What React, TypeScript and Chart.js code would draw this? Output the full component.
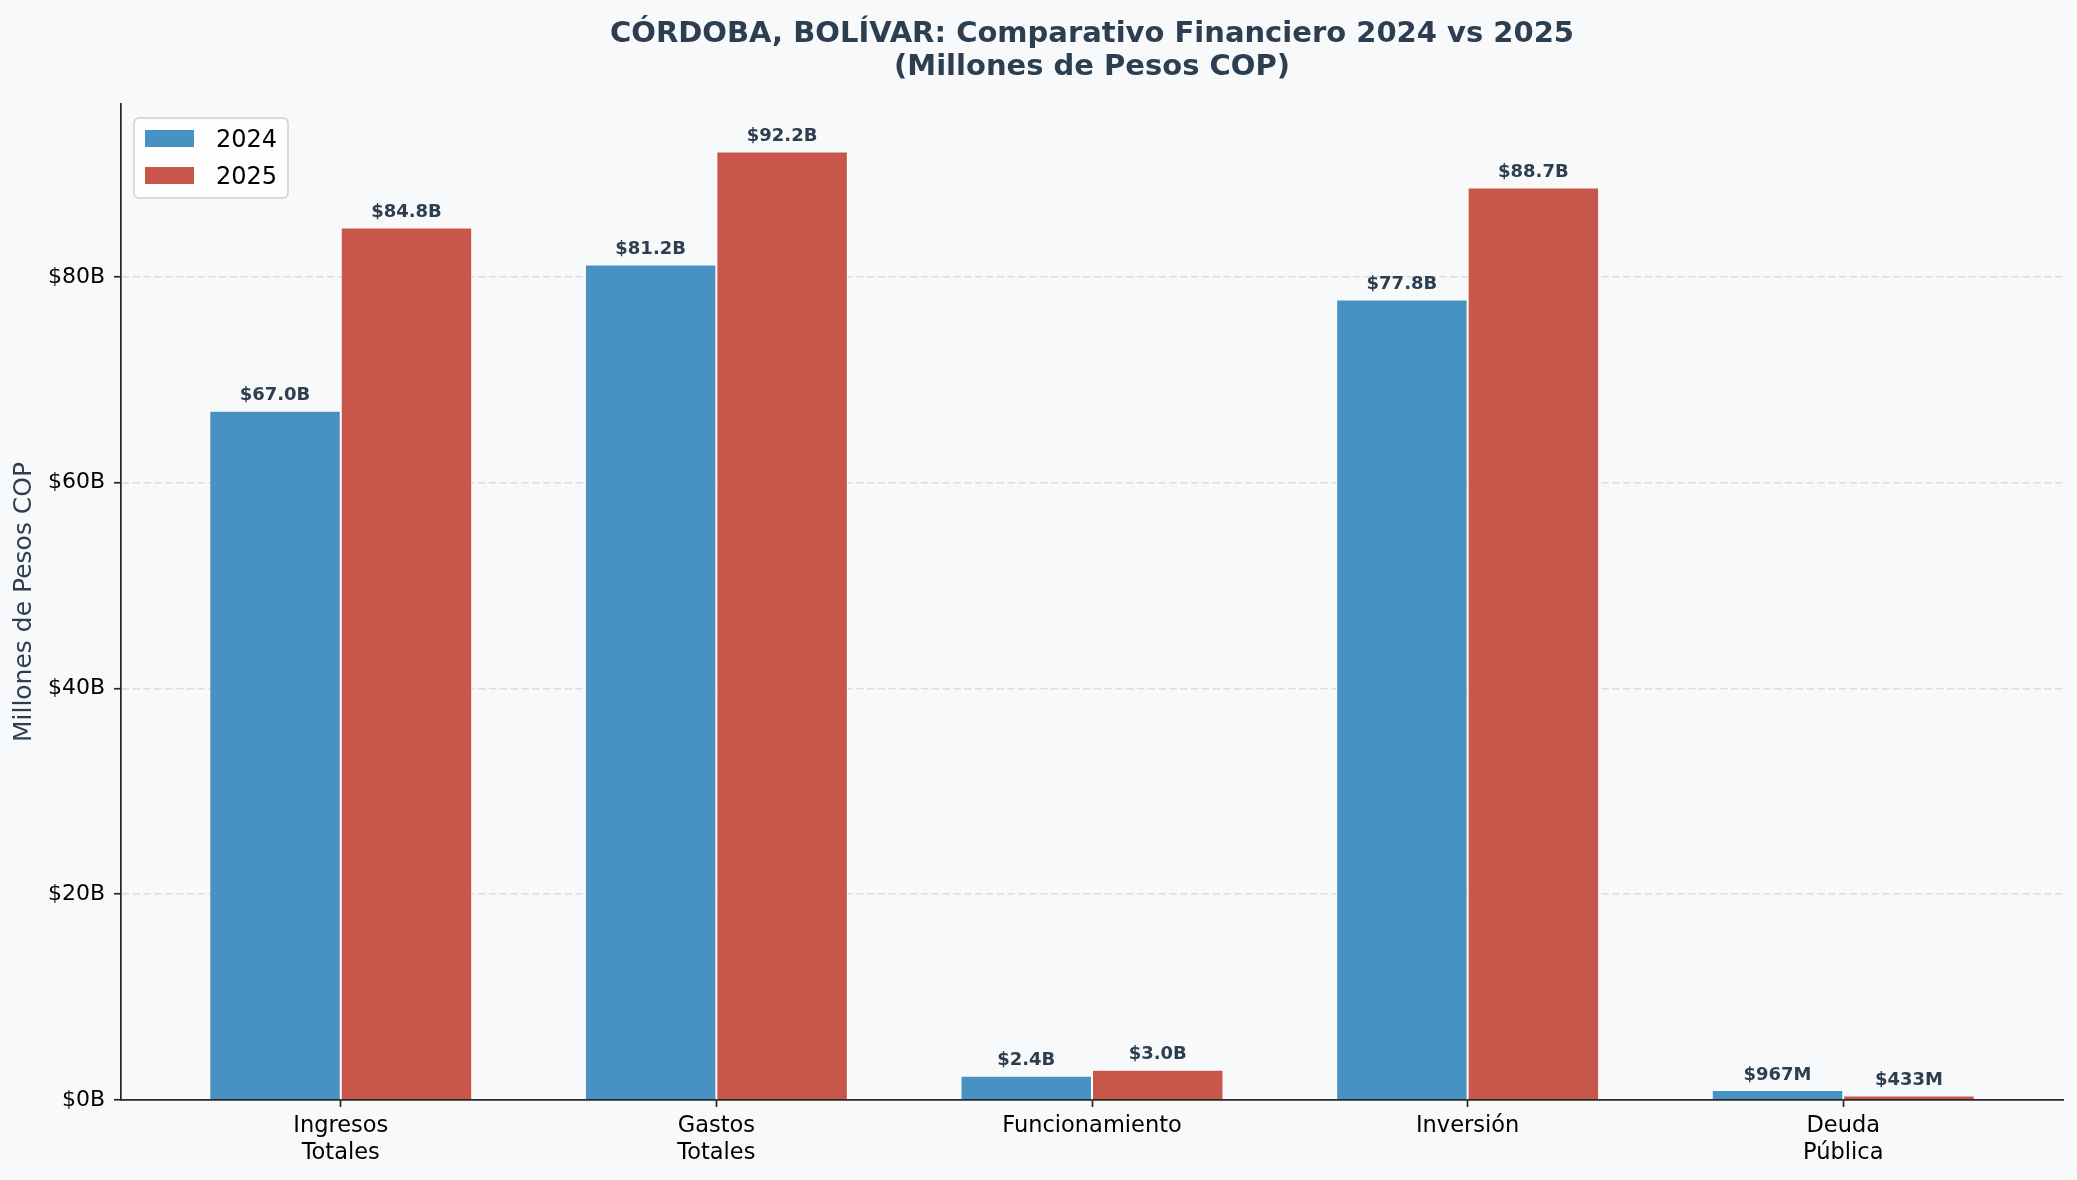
import { useEffect, useRef } from 'react';
import { Chart, registerables } from 'chart.js';

Chart.register(...registerables);

const FONT = '"DejaVu Sans", sans-serif';

const categories: (string | string[])[] = [
  ['Ingresos', 'Totales'],
  ['Gastos', 'Totales'],
  'Funcionamiento',
  'Inversión',
  ['Deuda', 'Pública'],
];
const seriesLabels = ['2024', '2025'];
const values2024 = [67.0, 81.2, 2.35, 77.8, 0.967];
const values2025 = [84.8, 92.2, 2.95, 88.7, 0.433];
const seriesColors = ['#4892c3', '#c8564a'];
const yTicks = [0, 20, 40, 60, 80];
const yMax = 96.81;
const xMin = -0.585;
const xMax = 4.585;
const titleLines = ['CÓRDOBA, BOLÍVAR: Comparativo Financiero 2024 vs 2025', '(Millones de Pesos COP)'];
const yTitle = 'Millones de Pesos COP';

function fmtValue(v: number): string {
  if (v >= 1) return `$${v.toFixed(1)}B`;
  return `$${Math.round(v * 1000)}M`;
}

const backgroundPlugin = {
  id: 'bg',
  beforeDraw(chart: any) {
    const ctx = chart.ctx;
    ctx.save();
    ctx.fillStyle = '#f8f9fa';
    ctx.fillRect(0, 0, chart.width, chart.height);
    ctx.restore();
  },
};

const overlayPlugin = {
  id: 'overlay',
  afterDatasetsDraw(chart: any) {
    const ctx = chart.ctx;
    ctx.save();
    ctx.font = `bold 18px ${FONT}`;
    ctx.fillStyle = '#2c3e50';
    ctx.textAlign = 'center';
    ctx.textBaseline = 'alphabetic';
    chart.data.datasets.forEach((ds: any, i: number) => {
      const meta = chart.getDatasetMeta(i);
      meta.data.forEach((bar: any, j: number) => {
        const v = ds.data[j].y;
        ctx.fillText(fmtValue(v), bar.x, bar.y - 10.5);
      });
    });
    ctx.restore();
  },
  afterDraw(chart: any) {
    const ctx = chart.ctx;
    const area = chart.chartArea;
    ctx.save();
    // title
    ctx.font = `bold 29px ${FONT}`;
    ctx.fillStyle = '#2c3e50';
    ctx.textAlign = 'center';
    ctx.textBaseline = 'alphabetic';
    const cx = (area.left + area.right) / 2;
    ctx.fillText(titleLines[0], cx, 42);
    ctx.fillText(titleLines[1], cx, 75);

    // legend
    const bx = 134, by = 118, bw = 154, bh = 80;
    ctx.beginPath();
    (ctx as any).roundRect(bx, by, bw, bh, 5);
    ctx.fillStyle = 'rgba(255,255,255,0.8)';
    ctx.fill();
    ctx.lineWidth = 1.5;
    ctx.strokeStyle = '#d0d0d0';
    ctx.stroke();
    ctx.font = `24px ${FONT}`;
    ctx.textAlign = 'left';
    chart.data.datasets.forEach((ds: any, i: number) => {
      const py = 130 + i * 37;
      ctx.fillStyle = ds.backgroundColor;
      ctx.fillRect(145, py, 49, 17);
      ctx.fillStyle = '#000';
      ctx.fillText(ds.label, 216, py + 17);
    });
    ctx.restore();
  },
};

export default function App() {
  const ref = useRef<HTMLCanvasElement | null>(null);

  useEffect(() => {
    if (!ref.current) return;
    const mk = (vals: number[]) => vals.map((v, i) => ({ x: i, y: v }));
    const chart = new Chart(ref.current, {
      type: 'bar',
      data: {
        datasets: [
          {
            label: seriesLabels[0],
            data: mk(values2024) as any,
            backgroundColor: seriesColors[0],
            borderColor: '#ffffff',
            borderWidth: 1,
            categoryPercentage: 0.7,
            barPercentage: 1.0,
          },
          {
            label: seriesLabels[1],
            data: mk(values2025) as any,
            backgroundColor: seriesColors[1],
            borderColor: '#ffffff',
            borderWidth: 1,
            categoryPercentage: 0.7,
            barPercentage: 1.0,
          },
        ],
      },
      options: {
        animation: false,
        responsive: true,
        maintainAspectRatio: false,
        devicePixelRatio: 1,
        layout: { padding: { top: 104, right: 14, bottom: 0, left: 1 } },
        plugins: {
          legend: { display: false },
          title: { display: false },
          tooltip: { enabled: false },
        },
        scales: {
          x: {
            type: 'linear',
            min: xMin,
            max: xMax,
            offset: false,
            z: 1,
            afterBuildTicks: (s: any) => {
              s.ticks = categories.map((_, i) => ({ value: i }));
            },
            afterFit: (s: any) => {
              s.height = 80;
            },
            ticks: {
              callback: (v: any) => categories[Math.round(Number(v))] as any,
              color: '#000',
              font: { family: FONT, size: 22.5 },
              padding: 6,
              autoSkip: false,
              maxRotation: 0,
            },
            grid: {
              offset: false,
              drawOnChartArea: false,
              drawTicks: true,
              tickLength: 7,
              tickColor: '#262626',
              tickWidth: 1.7,
            },
            border: { display: true, color: '#262626', width: 1.7 },
          },
          y: {
            min: 0,
            max: yMax,
            afterBuildTicks: (s: any) => {
              s.ticks = yTicks.map((v) => ({ value: v }));
            },
            afterFit: (s: any) => {
              s.width = 120;
            },
            ticks: {
              callback: (v: any) => `$${v}B`,
              color: '#000',
              font: { family: FONT, size: 22 },
              padding: 9,
            },
            grid: {
              color: (c: any) => (c.tick && c.tick.value === 0 ? 'rgba(0,0,0,0)' : 'rgba(170,170,170,0.35)'),
              lineWidth: 1.5,
              tickLength: 7,
              tickColor: '#262626',
              tickWidth: 1.7,
              drawTicks: true,
            },
            border: { display: true, color: '#262626', width: 1.7, dash: [7.5, 3.3] },
            title: {
              display: true,
              text: yTitle,
              color: '#2c3e50',
              font: { family: FONT, size: 25 },
              padding: { top: 8, bottom: 0 },
            },
          },
        },
      } as any,
      plugins: [backgroundPlugin, overlayPlugin],
    });
    return () => chart.destroy();
  }, []);

  return (
    <div style={{ position: 'fixed', left: 0, top: 0, width: 2077, height: 1180, background: '#f8f9fa' }}>
      <canvas ref={ref} />
    </div>
  );
}
